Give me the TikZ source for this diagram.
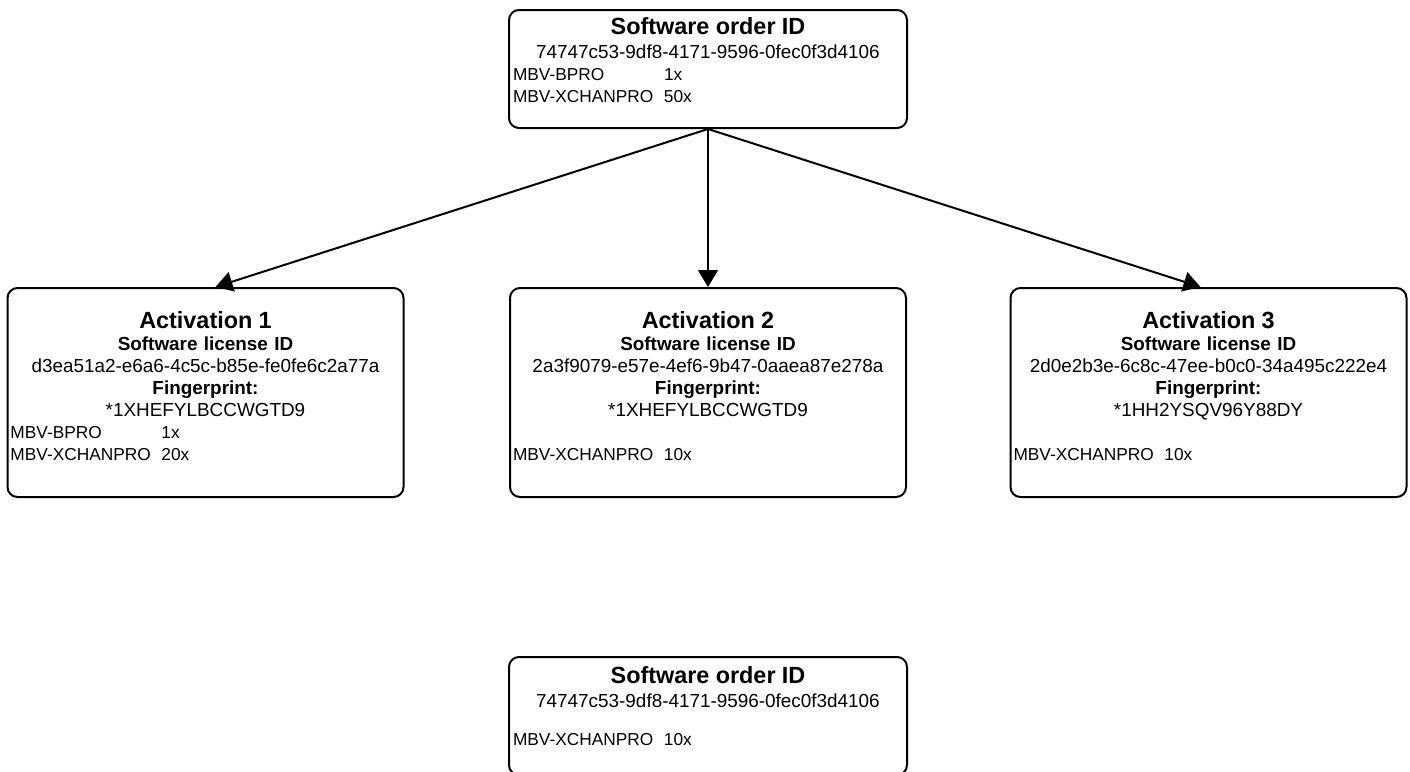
\documentclass[tikz,border=0pt]{standalone}
\usepackage{fontspec}
\setmainfont{Liberation Sans}
\usetikzlibrary{arrows.meta,positioning}

\newcommand{\boxtitle}[1]{{\fontsize{11.7}{14}\selectfont\bfseries #1}}
\newcommand{\skuline}[2]{\makebox[\linewidth][l]{\hspace{0.5pt}\fontsize{8.65}{11}\selectfont\makebox[75.5pt][l]{#1}#2}}

\begin{document}
\begin{tikzpicture}[
  x=0.5pt, y=-0.5pt,
  box/.style={
    draw,
    line width=1pt,
    rounded corners=5pt,
    minimum width=199pt,
    minimum height=59pt,
    inner sep=0pt
  },
  actbox/.style={box,minimum width=198pt,minimum height=104.5pt},
  boxtext/.style={
    align=center,
    text width=196pt,
    inner sep=0pt,
    font=\fontsize{9.45}{11}\selectfont
  },
  arrow/.style={-{Triangle[length=8.5pt,width=10pt]},line width=1pt}
]
  \useasboundingbox (0,0) rectangle (1410,772);

  \node[box] (order) at (708,69) {};
  \node[actbox] (act1) at (205.5,392.5) {};
  \node[actbox] (act2) at (708,392.5) {};
  \node[actbox] (act3) at (1208.5,392.5) {};
  \node[box] (order2) at (708,716) {};

  \node[boxtext,below=4pt of order.north] (order-text)
    {\boxtitle{Software order ID}\\[1pt]
     74747c53-9df8-4171-9596-0fec0f3d4106\\
     \skuline{MBV-BPRO}{1x}\\
     \skuline{MBV-XCHANPRO}{50x}};
  \node[boxtext,below=12pt of act1.north] (act1-text)
    {\boxtitle{Activation 1}\\
     \textbf{Software license ID}\\
     d3ea51a2-e6a6-4c5c-b85e-fe0fe6c2a77a\\
     \textbf{Fingerprint:}\\
     {*}1XHEFYLBCCWGTD9\\
     \skuline{MBV-BPRO}{1x}\\
     \skuline{MBV-XCHANPRO}{20x}};
  \node[boxtext,below=12pt of act2.north] (act2-text)
    {\boxtitle{Activation 2}\\
     \textbf{Software license ID}\\
     2a3f9079-e57e-4ef6-9b47-0aaea87e278a\\
     \textbf{Fingerprint:}\\
     {*}1XHEFYLBCCWGTD9\\[11pt]
     \skuline{MBV-XCHANPRO}{10x}};
  \node[boxtext,below=12pt of act3.north] (act3-text)
    {\boxtitle{Activation 3}\\
     \textbf{Software license ID}\\
     2d0e2b3e-6c8c-47ee-b0c0-34a495c222e4\\
     \textbf{Fingerprint:}\\
     {*}1HH2YSQV96Y88DY\\[11pt]
     \skuline{MBV-XCHANPRO}{10x}};
  \node[boxtext,below=5pt of order2.north] (order2-text)
    {\boxtitle{Software order ID}\\[1pt]
     74747c53-9df8-4171-9596-0fec0f3d4106\\[8pt]
     \skuline{MBV-XCHANPRO}{10x}};

  \draw[arrow] (order.south) -- ([xshift=5pt]act1.north);
  \draw[arrow] (order.south) -- (act2.north);
  \draw[arrow] (order.south) -- ([xshift=-4pt]act3.north);
\end{tikzpicture}
\end{document}
